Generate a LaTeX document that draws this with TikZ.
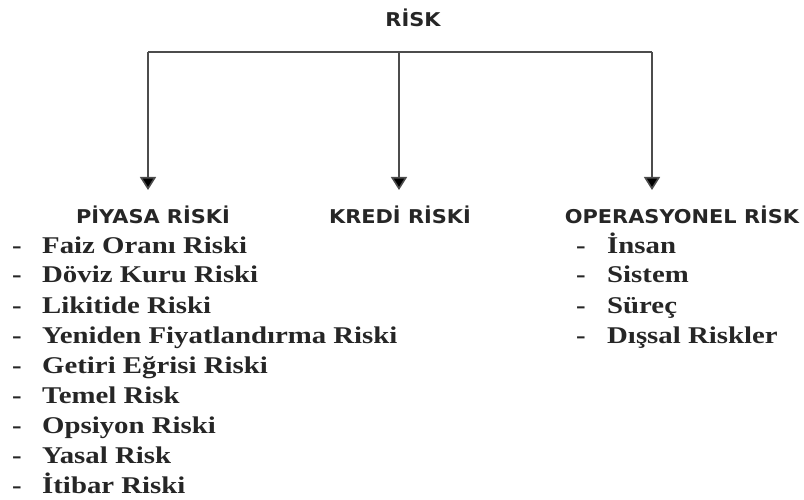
\documentclass[tikz,border=0pt]{standalone}
\usepackage{fontspec}
\setmainfont{Liberation Serif}
\newfontfamily\headfont[FakeStretch=1.1]{DejaVu Sans}
\newfontfamily\itemfont[FakeStretch=1.2]{Liberation Serif}
\usetikzlibrary{arrows.meta}
\begin{document}
\begin{tikzpicture}[x=1pt,y=-1pt,
  head/.style={font=\headfont\bfseries\fontsize{19}{21}\selectfont, anchor=base, inner sep=0pt, text=black!85},
  item/.style={font=\itemfont\bfseries\fontsize{24}{26}\selectfont, anchor=base west, inner sep=0pt, text=black!85},
  dashmark/.style={font=\itemfont\bfseries\fontsize{24}{26}\selectfont, anchor=base west, inner sep=0pt, text=black!85},
  conn/.style={draw=black!70, line width=1.6pt},
  arr/.style={conn, -{Triangle[length=13pt,width=16pt,fill=black]}}]
\useasboundingbox (0,0) rectangle (804,500);
\node[head] (risk) at (413,27) {RİSK};
\coordinate (top) at (399,52);
\coordinate (l) at (148,52);
\coordinate (r) at (652,52);
\coordinate (la) at (148,190);
\coordinate (ma) at (399,190);
\coordinate (ra) at (652,190);
\draw[conn] (l) -- (r);
\draw[arr] (l) -- (la);
\draw[arr] (top) -- (ma);
\draw[arr] (r) -- (ra);
\node[head] (piy) at (153,223) {PİYASA RİSKİ};
\node[head] (kre) at (400,223) {KREDİ RİSKİ};
\node[head] (ope) at (682,223) {OPERASYONEL RİSK};
\foreach \t [count=\i] in {Faiz Oranı Riski, Döviz Kuru Riski, Likitide Riski, Yeniden Fiyatlandırma Riski, Getiri Eğrisi Riski, Temel Risk, Opsiyon Riski, Yasal Risk, İtibar Riski}{
  \node[dashmark] (ld\i) at (12,{253+(\i-1)*30}) {-};
  \node[item] (li\i) at (42,{253+(\i-1)*30}) {\t};
}
\foreach \t [count=\i] in {İnsan, Sistem, Süreç, Dışsal Riskler}{
  \node[dashmark] (rd\i) at (576,{253+(\i-1)*30}) {-};
  \node[item] (ri\i) at (607,{253+(\i-1)*30}) {\t};
}
\end{tikzpicture}
\end{document}
